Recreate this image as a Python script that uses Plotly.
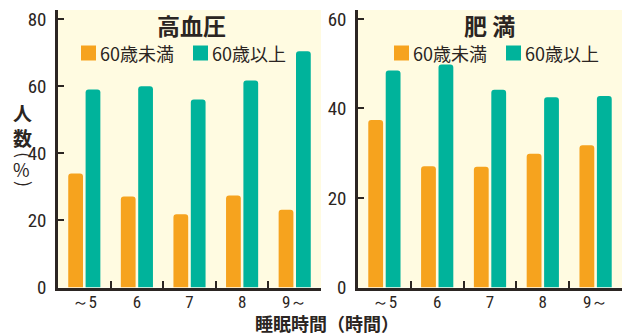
import plotly.graph_objects as go

categories = ["～5", "6", "7", "8", "9～"]
series_names = ["60歳未満", "60歳以上"]
hyper_under60 = [34.0, 27.1, 21.8, 27.4, 23.2]
hyper_over60 = [59.0, 60.0, 56.0, 61.7, 70.4]
obese_under60 = [37.4, 27.1, 27.0, 29.9, 31.8]
obese_over60 = [48.5, 49.8, 44.2, 42.5, 42.8]
panel_titles = ["高血圧", "肥 満"]
x_title = "睡眠時間（時間）"
y_title_main = "人<br>数"
y_title_unit = ["(", "%", ")"]

ORANGE = "#F6A31E"
GREEN = "#00B39B"
BG = "#FFFBE1"
INK = "#2B2522"
W, H = 626, 336
CJK = "Noto Sans CJK JP, Noto Sans, sans-serif"
NUM = "Liberation Sans Narrow, Roboto Condensed, Arial Narrow, Liberation Sans, sans-serif"

xi = list(range(len(categories)))

fig = go.Figure()
for vals, color, xa, ya in [
    (hyper_under60, ORANGE, "x", "y"), (hyper_over60, GREEN, "x", "y"),
    (obese_under60, ORANGE, "x2", "y2"), (obese_over60, GREEN, "x2", "y2"),
]:
    fig.add_trace(go.Bar(x=xi, y=vals, marker=dict(color=color, line=dict(width=0), cornerradius=3),
                         xaxis=xa, yaxis=ya, showlegend=False, hoverinfo="y"))

def px(x):
    return x / W

def py(y):
    return 1 - y / H

ydom = [py(287.5), py(10)]
common_x = dict(range=[-0.5, 4.5], tickvals=xi, ticktext=categories, ticks="",
                showline=True, linecolor=INK, linewidth=2.5, showgrid=False, zeroline=False,
                tickfont=dict(family=NUM, size=17, color=INK), ticklabelstandoff=-3,
                minor=dict(tickvals=[0.5, 1.5, 2.5, 3.5], ticks="inside", ticklen=7,
                           tickwidth=2, tickcolor=INK, showgrid=False),
                automargin=False, fixedrange=True)
common_y = dict(showline=True, linecolor=INK, linewidth=2.5, showgrid=False, zeroline=False,
                ticks="inside", ticklen=6, tickwidth=2, tickcolor=INK,
                tickfont=dict(family=NUM, size=19, color=INK), ticklabelstandoff=5,
                automargin=False, fixedrange=True)

fig.update_layout(
    width=W, height=H, margin=dict(l=0, r=0, t=0, b=0),
    paper_bgcolor="white", plot_bgcolor=BG,
    barmode="group", bargap=0.34, bargroupgap=0.15,
    xaxis=dict(domain=[px(58), px(321)], anchor="y", **common_x),
    xaxis2=dict(domain=[px(358), px(622)], anchor="y2", **common_x),
    yaxis=dict(domain=ydom, anchor="x", range=[0, 82.7], tickvals=[0, 20, 40, 60, 80], **common_y),
    yaxis2=dict(domain=ydom, anchor="x2", range=[0, 62.0], tickvals=[0, 20, 40, 60], **common_y),
)

ann = []
shapes = []
# panel titles
for title, cx in zip(panel_titles, [191, 490]):
    ann.append(dict(x=px(cx), y=py(25), xref="paper", yref="paper", text="<b>" + title + "</b>",
                    showarrow=False, xanchor="center", yanchor="middle",
                    font=dict(family=CJK, size=23, color=INK)))
# legends (drawn as boxes + labels)
for sq_lefts in [[81, 193], [394, 506]]:
    for name, color, sx in zip(series_names, [ORANGE, GREEN], sq_lefts):
        shapes.append(dict(type="rect", xref="paper", yref="paper",
                           x0=px(sx), x1=px(sx + 15), y0=py(60.5), y1=py(45.5),
                           fillcolor=color, line=dict(width=0)))
        ann.append(dict(x=px(sx + 17), y=py(53), xref="paper", yref="paper", text=name,
                        showarrow=False, xanchor="left", yanchor="middle",
                        font=dict(family=CJK, size=18, color=INK)))
# axis titles
ann.append(dict(x=px(327), y=py(323), xref="paper", yref="paper", text="<b>" + x_title + "</b>",
                showarrow=False, xanchor="center", yanchor="middle",
                font=dict(family=CJK, size=18, color=INK)))
ann.append(dict(x=px(22), y=py(125), xref="paper", yref="paper", text="<b>" + y_title_main + "</b>",
                showarrow=False, xanchor="center", yanchor="middle",
                font=dict(family=CJK, size=19, color=INK)))
for ch, cx, cy, ang in zip(y_title_unit, [25, 21.5, 25], [155, 169, 184], [90, 0, 90]):
    ann.append(dict(x=px(cx), y=py(cy), xref="paper", yref="paper", text=ch, textangle=ang,
                    showarrow=False, xanchor="center", yanchor="middle",
                    font=dict(family=CJK, size=18, color=INK)))
fig.update_layout(annotations=ann, shapes=shapes)

fig.write_html("out.html")
